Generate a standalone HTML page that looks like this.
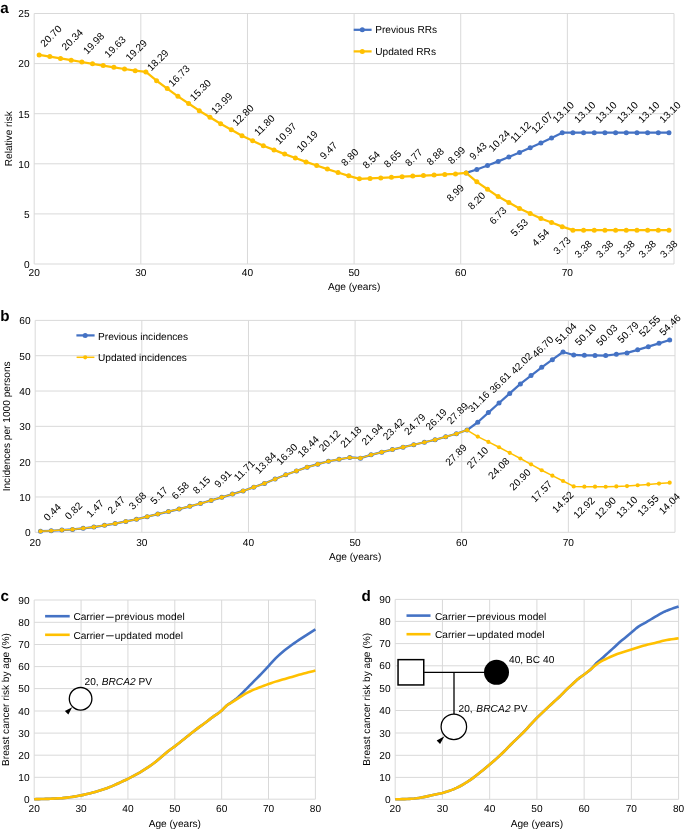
<!DOCTYPE html>
<html><head><meta charset="utf-8"><style>
html,body{margin:0;padding:0;background:#fff;}
svg{display:block;will-change:transform;}
</style></head><body>
<svg width="685" height="832" viewBox="0 0 685 832" font-family='"Liberation Sans", sans-serif' font-size="10.15" fill="#000" text-rendering="geometricPrecision">
<rect width="685" height="832" fill="#fff"/>
<line x1="34.2" y1="213.9" x2="674" y2="213.9" stroke="#D9D9D9" stroke-width="1"/>
<line x1="34.2" y1="163.8" x2="674" y2="163.8" stroke="#D9D9D9" stroke-width="1"/>
<line x1="34.2" y1="113.7" x2="674" y2="113.7" stroke="#D9D9D9" stroke-width="1"/>
<line x1="34.2" y1="63.6" x2="674" y2="63.6" stroke="#D9D9D9" stroke-width="1"/>
<line x1="34.2" y1="13.5" x2="674" y2="13.5" stroke="#D9D9D9" stroke-width="1"/>
<line x1="34.2" y1="13.5" x2="34.2" y2="264" stroke="#D9D9D9" stroke-width="1"/>
<line x1="140.83" y1="13.5" x2="140.83" y2="264" stroke="#D9D9D9" stroke-width="1"/>
<line x1="247.47" y1="13.5" x2="247.47" y2="264" stroke="#D9D9D9" stroke-width="1"/>
<line x1="354.1" y1="13.5" x2="354.1" y2="264" stroke="#D9D9D9" stroke-width="1"/>
<line x1="460.73" y1="13.5" x2="460.73" y2="264" stroke="#D9D9D9" stroke-width="1"/>
<line x1="567.37" y1="13.5" x2="567.37" y2="264" stroke="#D9D9D9" stroke-width="1"/>
<line x1="674" y1="13.5" x2="674" y2="264" stroke="#D9D9D9" stroke-width="1"/>
<line x1="34.2" y1="264" x2="674" y2="264" stroke="#D9D9D9" stroke-width="1"/>
<text x="29.6" y="267.85" text-anchor="end">0</text>
<text x="29.6" y="217.75" text-anchor="end">5</text>
<text x="29.6" y="167.65" text-anchor="end">10</text>
<text x="29.6" y="117.55" text-anchor="end">15</text>
<text x="29.6" y="67.45" text-anchor="end">20</text>
<text x="29.6" y="17.35" text-anchor="end">25</text>
<text x="34.2" y="275.8" text-anchor="middle">20</text>
<text x="140.83" y="275.8" text-anchor="middle">30</text>
<text x="247.47" y="275.8" text-anchor="middle">40</text>
<text x="354.1" y="275.8" text-anchor="middle">50</text>
<text x="460.73" y="275.8" text-anchor="middle">60</text>
<text x="567.37" y="275.8" text-anchor="middle">70</text>
<text x="354.1" y="289.9" text-anchor="middle">Age (years)</text>
<text transform="translate(11.6,138.75) rotate(-90)" x="0" y="0" text-anchor="middle">Relative risk</text>
<text x="0.3" y="12.8" font-weight="bold" font-size="15.2">a</text>
<polyline points="466.15,172.92 476.82,169.51 487.5,165.45 498.18,161.4 508.85,156.99 519.53,152.58 530.2,147.82 540.88,143.06 551.55,137.9 562.23,132.74 572.9,132.74 583.58,132.74 594.25,132.74 604.93,132.74 615.6,132.74 626.27,132.74 636.95,132.74 647.62,132.74 658.3,132.74 668.98,132.74" fill="none" stroke="#4472C4" stroke-width="2.25" stroke-linejoin="round" stroke-linecap="round"/>
<circle cx="466.15" cy="172.92" r="2.5" fill="#4472C4"/>
<circle cx="476.82" cy="169.51" r="2.5" fill="#4472C4"/>
<circle cx="487.5" cy="165.45" r="2.5" fill="#4472C4"/>
<circle cx="498.18" cy="161.4" r="2.5" fill="#4472C4"/>
<circle cx="508.85" cy="156.99" r="2.5" fill="#4472C4"/>
<circle cx="519.53" cy="152.58" r="2.5" fill="#4472C4"/>
<circle cx="530.2" cy="147.82" r="2.5" fill="#4472C4"/>
<circle cx="540.88" cy="143.06" r="2.5" fill="#4472C4"/>
<circle cx="551.55" cy="137.9" r="2.5" fill="#4472C4"/>
<circle cx="562.23" cy="132.74" r="2.5" fill="#4472C4"/>
<circle cx="572.9" cy="132.74" r="2.5" fill="#4472C4"/>
<circle cx="583.58" cy="132.74" r="2.5" fill="#4472C4"/>
<circle cx="594.25" cy="132.74" r="2.5" fill="#4472C4"/>
<circle cx="604.93" cy="132.74" r="2.5" fill="#4472C4"/>
<circle cx="615.6" cy="132.74" r="2.5" fill="#4472C4"/>
<circle cx="626.27" cy="132.74" r="2.5" fill="#4472C4"/>
<circle cx="636.95" cy="132.74" r="2.5" fill="#4472C4"/>
<circle cx="647.62" cy="132.74" r="2.5" fill="#4472C4"/>
<circle cx="658.3" cy="132.74" r="2.5" fill="#4472C4"/>
<circle cx="668.98" cy="132.74" r="2.5" fill="#4472C4"/>
<polyline points="39.15,54.98 49.83,56.59 60.5,58.39 71.18,60.19 81.85,62 92.53,63.8 103.2,65.55 113.88,67.31 124.55,69.01 135.22,70.71 145.9,71.92 156.58,80.73 167.25,88.55 177.93,96.37 188.6,103.53 199.28,110.69 209.95,117.26 220.63,123.82 231.3,129.78 241.98,135.74 252.65,140.75 263.32,145.76 274,149.92 284.68,154.08 295.35,157.99 306.02,161.9 316.7,165.5 327.38,169.11 338.05,172.47 348.73,175.82 359.4,178.83 370.07,178.43 380.75,177.88 391.43,177.33 402.1,176.73 412.77,176.12 423.45,175.57 434.12,175.02 444.8,174.47 455.48,173.92 466.15,172.92 476.82,181.84 487.5,189.2 498.18,196.57 508.85,202.58 519.53,208.59 530.2,213.55 540.88,218.51 551.55,222.57 562.23,226.63 572.9,230.13 583.58,230.13 594.25,230.13 604.93,230.13 615.6,230.13 626.27,230.13 636.95,230.13 647.62,230.13 658.3,230.13 668.98,230.13" fill="none" stroke="#FFC000" stroke-width="2.25" stroke-linejoin="round" stroke-linecap="round"/>
<circle cx="39.15" cy="54.98" r="2.5" fill="#FFC000"/>
<circle cx="49.83" cy="56.59" r="2.5" fill="#FFC000"/>
<circle cx="60.5" cy="58.39" r="2.5" fill="#FFC000"/>
<circle cx="71.18" cy="60.19" r="2.5" fill="#FFC000"/>
<circle cx="81.85" cy="62" r="2.5" fill="#FFC000"/>
<circle cx="92.53" cy="63.8" r="2.5" fill="#FFC000"/>
<circle cx="103.2" cy="65.55" r="2.5" fill="#FFC000"/>
<circle cx="113.88" cy="67.31" r="2.5" fill="#FFC000"/>
<circle cx="124.55" cy="69.01" r="2.5" fill="#FFC000"/>
<circle cx="135.22" cy="70.71" r="2.5" fill="#FFC000"/>
<circle cx="145.9" cy="71.92" r="2.5" fill="#FFC000"/>
<circle cx="156.58" cy="80.73" r="2.5" fill="#FFC000"/>
<circle cx="167.25" cy="88.55" r="2.5" fill="#FFC000"/>
<circle cx="177.93" cy="96.37" r="2.5" fill="#FFC000"/>
<circle cx="188.6" cy="103.53" r="2.5" fill="#FFC000"/>
<circle cx="199.28" cy="110.69" r="2.5" fill="#FFC000"/>
<circle cx="209.95" cy="117.26" r="2.5" fill="#FFC000"/>
<circle cx="220.63" cy="123.82" r="2.5" fill="#FFC000"/>
<circle cx="231.3" cy="129.78" r="2.5" fill="#FFC000"/>
<circle cx="241.98" cy="135.74" r="2.5" fill="#FFC000"/>
<circle cx="252.65" cy="140.75" r="2.5" fill="#FFC000"/>
<circle cx="263.32" cy="145.76" r="2.5" fill="#FFC000"/>
<circle cx="274" cy="149.92" r="2.5" fill="#FFC000"/>
<circle cx="284.68" cy="154.08" r="2.5" fill="#FFC000"/>
<circle cx="295.35" cy="157.99" r="2.5" fill="#FFC000"/>
<circle cx="306.02" cy="161.9" r="2.5" fill="#FFC000"/>
<circle cx="316.7" cy="165.5" r="2.5" fill="#FFC000"/>
<circle cx="327.38" cy="169.11" r="2.5" fill="#FFC000"/>
<circle cx="338.05" cy="172.47" r="2.5" fill="#FFC000"/>
<circle cx="348.73" cy="175.82" r="2.5" fill="#FFC000"/>
<circle cx="359.4" cy="178.83" r="2.5" fill="#FFC000"/>
<circle cx="370.07" cy="178.43" r="2.5" fill="#FFC000"/>
<circle cx="380.75" cy="177.88" r="2.5" fill="#FFC000"/>
<circle cx="391.43" cy="177.33" r="2.5" fill="#FFC000"/>
<circle cx="402.1" cy="176.73" r="2.5" fill="#FFC000"/>
<circle cx="412.77" cy="176.12" r="2.5" fill="#FFC000"/>
<circle cx="423.45" cy="175.57" r="2.5" fill="#FFC000"/>
<circle cx="434.12" cy="175.02" r="2.5" fill="#FFC000"/>
<circle cx="444.8" cy="174.47" r="2.5" fill="#FFC000"/>
<circle cx="455.48" cy="173.92" r="2.5" fill="#FFC000"/>
<circle cx="466.15" cy="172.92" r="2.5" fill="#FFC000"/>
<circle cx="476.82" cy="181.84" r="2.5" fill="#FFC000"/>
<circle cx="487.5" cy="189.2" r="2.5" fill="#FFC000"/>
<circle cx="498.18" cy="196.57" r="2.5" fill="#FFC000"/>
<circle cx="508.85" cy="202.58" r="2.5" fill="#FFC000"/>
<circle cx="519.53" cy="208.59" r="2.5" fill="#FFC000"/>
<circle cx="530.2" cy="213.55" r="2.5" fill="#FFC000"/>
<circle cx="540.88" cy="218.51" r="2.5" fill="#FFC000"/>
<circle cx="551.55" cy="222.57" r="2.5" fill="#FFC000"/>
<circle cx="562.23" cy="226.63" r="2.5" fill="#FFC000"/>
<circle cx="572.9" cy="230.13" r="2.5" fill="#FFC000"/>
<circle cx="583.58" cy="230.13" r="2.5" fill="#FFC000"/>
<circle cx="594.25" cy="230.13" r="2.5" fill="#FFC000"/>
<circle cx="604.93" cy="230.13" r="2.5" fill="#FFC000"/>
<circle cx="615.6" cy="230.13" r="2.5" fill="#FFC000"/>
<circle cx="626.27" cy="230.13" r="2.5" fill="#FFC000"/>
<circle cx="636.95" cy="230.13" r="2.5" fill="#FFC000"/>
<circle cx="647.62" cy="230.13" r="2.5" fill="#FFC000"/>
<circle cx="658.3" cy="230.13" r="2.5" fill="#FFC000"/>
<circle cx="668.98" cy="230.13" r="2.5" fill="#FFC000"/>
<text transform="translate(50.83,35.92) rotate(-45)" x="0" y="3.63" text-anchor="middle">20.70</text>
<text transform="translate(72.18,39.53) rotate(-45)" x="0" y="3.63" text-anchor="middle">20.34</text>
<text transform="translate(93.53,43.13) rotate(-45)" x="0" y="3.63" text-anchor="middle">19.98</text>
<text transform="translate(114.88,46.64) rotate(-45)" x="0" y="3.63" text-anchor="middle">19.63</text>
<text transform="translate(136.22,50.05) rotate(-45)" x="0" y="3.63" text-anchor="middle">19.29</text>
<text transform="translate(157.58,60.07) rotate(-45)" x="0" y="3.63" text-anchor="middle">18.29</text>
<text transform="translate(178.93,75.7) rotate(-45)" x="0" y="3.63" text-anchor="middle">16.73</text>
<text transform="translate(200.28,90.03) rotate(-45)" x="0" y="3.63" text-anchor="middle">15.30</text>
<text transform="translate(221.63,103.15) rotate(-45)" x="0" y="3.63" text-anchor="middle">13.99</text>
<text transform="translate(242.98,115.08) rotate(-45)" x="0" y="3.63" text-anchor="middle">12.80</text>
<text transform="translate(264.32,125.1) rotate(-45)" x="0" y="3.63" text-anchor="middle">11.80</text>
<text transform="translate(285.68,133.41) rotate(-45)" x="0" y="3.63" text-anchor="middle">10.97</text>
<text transform="translate(307.02,141.23) rotate(-45)" x="0" y="3.63" text-anchor="middle">10.19</text>
<text transform="translate(328.38,150.44) rotate(-45)" x="0" y="3.63" text-anchor="middle">9.47</text>
<text transform="translate(349.73,157.15) rotate(-45)" x="0" y="3.63" text-anchor="middle">8.80</text>
<text transform="translate(371.07,159.76) rotate(-45)" x="0" y="3.63" text-anchor="middle">8.54</text>
<text transform="translate(392.43,158.66) rotate(-45)" x="0" y="3.63" text-anchor="middle">8.65</text>
<text transform="translate(413.77,157.45) rotate(-45)" x="0" y="3.63" text-anchor="middle">8.77</text>
<text transform="translate(435.12,156.35) rotate(-45)" x="0" y="3.63" text-anchor="middle">8.88</text>
<text transform="translate(456.48,155.25) rotate(-45)" x="0" y="3.63" text-anchor="middle">8.99</text>
<text transform="translate(477.82,150.84) rotate(-45)" x="0" y="3.63" text-anchor="middle">9.43</text>
<text transform="translate(499.18,140.73) rotate(-45)" x="0" y="3.63" text-anchor="middle">10.24</text>
<text transform="translate(520.53,131.91) rotate(-45)" x="0" y="3.63" text-anchor="middle">11.12</text>
<text transform="translate(541.88,122.39) rotate(-45)" x="0" y="3.63" text-anchor="middle">12.07</text>
<text transform="translate(563.23,112.07) rotate(-45)" x="0" y="3.63" text-anchor="middle">13.10</text>
<text transform="translate(584.58,112.07) rotate(-45)" x="0" y="3.63" text-anchor="middle">13.10</text>
<text transform="translate(605.93,112.07) rotate(-45)" x="0" y="3.63" text-anchor="middle">13.10</text>
<text transform="translate(627.27,112.07) rotate(-45)" x="0" y="3.63" text-anchor="middle">13.10</text>
<text transform="translate(648.62,112.07) rotate(-45)" x="0" y="3.63" text-anchor="middle">13.10</text>
<text transform="translate(669.98,112.07) rotate(-45)" x="0" y="3.63" text-anchor="middle">13.10</text>
<text transform="translate(455.08,192.79) rotate(-45)" x="0" y="3.63" text-anchor="middle">8.99</text>
<text transform="translate(476.43,200.71) rotate(-45)" x="0" y="3.63" text-anchor="middle">8.20</text>
<text transform="translate(497.78,215.44) rotate(-45)" x="0" y="3.63" text-anchor="middle">6.73</text>
<text transform="translate(519.13,227.46) rotate(-45)" x="0" y="3.63" text-anchor="middle">5.53</text>
<text transform="translate(540.48,237.38) rotate(-45)" x="0" y="3.63" text-anchor="middle">4.54</text>
<text transform="translate(561.83,245.5) rotate(-45)" x="0" y="3.63" text-anchor="middle">3.73</text>
<text transform="translate(583.18,249) rotate(-45)" x="0" y="3.63" text-anchor="middle">3.38</text>
<text transform="translate(604.53,249) rotate(-45)" x="0" y="3.63" text-anchor="middle">3.38</text>
<text transform="translate(625.88,249) rotate(-45)" x="0" y="3.63" text-anchor="middle">3.38</text>
<text transform="translate(647.23,249) rotate(-45)" x="0" y="3.63" text-anchor="middle">3.38</text>
<text transform="translate(668.58,249) rotate(-45)" x="0" y="3.63" text-anchor="middle">3.38</text>
<polyline points="353.7,29.8 371.6,29.8" fill="none" stroke="#4472C4" stroke-width="2.25" stroke-linejoin="round" stroke-linecap="butt"/>
<circle cx="362.3" cy="29.8" r="2.5" fill="#4472C4"/>
<text x="375.2" y="33.2">Previous RRs</text>
<polyline points="353.7,51.4 371.6,51.4" fill="none" stroke="#FFC000" stroke-width="2.25" stroke-linejoin="round" stroke-linecap="butt"/>
<circle cx="362.3" cy="51.4" r="2.5" fill="#FFC000"/>
<text x="375.2" y="54.8">Updated RRs</text>
<line x1="35.2" y1="496.98" x2="675" y2="496.98" stroke="#D9D9D9" stroke-width="1"/>
<line x1="35.2" y1="461.66" x2="675" y2="461.66" stroke="#D9D9D9" stroke-width="1"/>
<line x1="35.2" y1="426.34" x2="675" y2="426.34" stroke="#D9D9D9" stroke-width="1"/>
<line x1="35.2" y1="391.02" x2="675" y2="391.02" stroke="#D9D9D9" stroke-width="1"/>
<line x1="35.2" y1="355.7" x2="675" y2="355.7" stroke="#D9D9D9" stroke-width="1"/>
<line x1="35.2" y1="320.38" x2="675" y2="320.38" stroke="#D9D9D9" stroke-width="1"/>
<line x1="35.2" y1="320.38" x2="35.2" y2="532.3" stroke="#D9D9D9" stroke-width="1"/>
<line x1="141.83" y1="320.38" x2="141.83" y2="532.3" stroke="#D9D9D9" stroke-width="1"/>
<line x1="248.47" y1="320.38" x2="248.47" y2="532.3" stroke="#D9D9D9" stroke-width="1"/>
<line x1="355.1" y1="320.38" x2="355.1" y2="532.3" stroke="#D9D9D9" stroke-width="1"/>
<line x1="461.73" y1="320.38" x2="461.73" y2="532.3" stroke="#D9D9D9" stroke-width="1"/>
<line x1="568.37" y1="320.38" x2="568.37" y2="532.3" stroke="#D9D9D9" stroke-width="1"/>
<line x1="675" y1="320.38" x2="675" y2="532.3" stroke="#D9D9D9" stroke-width="1"/>
<line x1="35.2" y1="532.3" x2="675" y2="532.3" stroke="#D9D9D9" stroke-width="1"/>
<text x="30.6" y="536.2" text-anchor="end">0</text>
<text x="30.6" y="500.88" text-anchor="end">10</text>
<text x="30.6" y="465.56" text-anchor="end">20</text>
<text x="30.6" y="430.24" text-anchor="end">30</text>
<text x="30.6" y="394.92" text-anchor="end">40</text>
<text x="30.6" y="359.6" text-anchor="end">50</text>
<text x="30.6" y="324.28" text-anchor="end">60</text>
<text x="35.2" y="545.8" text-anchor="middle">20</text>
<text x="141.83" y="545.8" text-anchor="middle">30</text>
<text x="248.47" y="545.8" text-anchor="middle">40</text>
<text x="355.1" y="545.8" text-anchor="middle">50</text>
<text x="461.73" y="545.8" text-anchor="middle">60</text>
<text x="568.37" y="545.8" text-anchor="middle">70</text>
<text x="355.1" y="560.1" text-anchor="middle">Age (years)</text>
<text transform="translate(9.7,426.34) rotate(-90)" x="0" y="0" text-anchor="middle">Incidences per 1000 persons</text>
<text x="0.2" y="320.8" font-weight="bold" font-size="15.2">b</text>
<polyline points="40.53,531.24 51.2,530.75 61.86,530.07 72.52,529.4 83.19,528.26 93.85,527.11 104.51,525.34 115.17,523.58 125.84,521.44 136.5,519.3 147.16,516.67 157.83,514.04 168.49,511.55 179.15,509.06 189.82,506.29 200.48,503.51 211.14,500.41 221.81,497.3 232.47,494.12 243.13,490.94 253.8,487.18 264.46,483.42 275.12,479.07 285.79,474.73 296.45,470.95 307.12,467.17 317.78,464.2 328.44,461.24 339.1,459.36 349.77,457.49 360.43,458.13 371.09,454.81 381.76,452.19 392.42,449.58 403.08,447.16 413.75,444.74 424.41,442.27 435.07,439.8 445.74,436.79 456.4,433.79 467.06,430.05 477.73,422.24 488.39,412.62 499.05,402.99 509.72,393.44 520.38,383.89 531.04,375.62 541.71,367.36 552.37,359.69 563.03,352.03 573.7,354.99 584.36,355.35 595.03,355.47 605.69,355.59 616.35,354.25 627.01,352.91 637.68,349.8 648.34,346.69 659,343.32 669.67,339.95" fill="none" stroke="#4472C4" stroke-width="2.25" stroke-linejoin="round" stroke-linecap="round"/>
<circle cx="40.53" cy="531.24" r="2.5" fill="#4472C4"/>
<circle cx="51.2" cy="530.75" r="2.5" fill="#4472C4"/>
<circle cx="61.86" cy="530.07" r="2.5" fill="#4472C4"/>
<circle cx="72.52" cy="529.4" r="2.5" fill="#4472C4"/>
<circle cx="83.19" cy="528.26" r="2.5" fill="#4472C4"/>
<circle cx="93.85" cy="527.11" r="2.5" fill="#4472C4"/>
<circle cx="104.51" cy="525.34" r="2.5" fill="#4472C4"/>
<circle cx="115.17" cy="523.58" r="2.5" fill="#4472C4"/>
<circle cx="125.84" cy="521.44" r="2.5" fill="#4472C4"/>
<circle cx="136.5" cy="519.3" r="2.5" fill="#4472C4"/>
<circle cx="147.16" cy="516.67" r="2.5" fill="#4472C4"/>
<circle cx="157.83" cy="514.04" r="2.5" fill="#4472C4"/>
<circle cx="168.49" cy="511.55" r="2.5" fill="#4472C4"/>
<circle cx="179.15" cy="509.06" r="2.5" fill="#4472C4"/>
<circle cx="189.82" cy="506.29" r="2.5" fill="#4472C4"/>
<circle cx="200.48" cy="503.51" r="2.5" fill="#4472C4"/>
<circle cx="211.14" cy="500.41" r="2.5" fill="#4472C4"/>
<circle cx="221.81" cy="497.3" r="2.5" fill="#4472C4"/>
<circle cx="232.47" cy="494.12" r="2.5" fill="#4472C4"/>
<circle cx="243.13" cy="490.94" r="2.5" fill="#4472C4"/>
<circle cx="253.8" cy="487.18" r="2.5" fill="#4472C4"/>
<circle cx="264.46" cy="483.42" r="2.5" fill="#4472C4"/>
<circle cx="275.12" cy="479.07" r="2.5" fill="#4472C4"/>
<circle cx="285.79" cy="474.73" r="2.5" fill="#4472C4"/>
<circle cx="296.45" cy="470.95" r="2.5" fill="#4472C4"/>
<circle cx="307.12" cy="467.17" r="2.5" fill="#4472C4"/>
<circle cx="317.78" cy="464.2" r="2.5" fill="#4472C4"/>
<circle cx="328.44" cy="461.24" r="2.5" fill="#4472C4"/>
<circle cx="339.1" cy="459.36" r="2.5" fill="#4472C4"/>
<circle cx="349.77" cy="457.49" r="2.5" fill="#4472C4"/>
<circle cx="360.43" cy="458.13" r="2.5" fill="#4472C4"/>
<circle cx="371.09" cy="454.81" r="2.5" fill="#4472C4"/>
<circle cx="381.76" cy="452.19" r="2.5" fill="#4472C4"/>
<circle cx="392.42" cy="449.58" r="2.5" fill="#4472C4"/>
<circle cx="403.08" cy="447.16" r="2.5" fill="#4472C4"/>
<circle cx="413.75" cy="444.74" r="2.5" fill="#4472C4"/>
<circle cx="424.41" cy="442.27" r="2.5" fill="#4472C4"/>
<circle cx="435.07" cy="439.8" r="2.5" fill="#4472C4"/>
<circle cx="445.74" cy="436.79" r="2.5" fill="#4472C4"/>
<circle cx="456.4" cy="433.79" r="2.5" fill="#4472C4"/>
<circle cx="467.06" cy="430.05" r="2.5" fill="#4472C4"/>
<circle cx="477.73" cy="422.24" r="2.5" fill="#4472C4"/>
<circle cx="488.39" cy="412.62" r="2.5" fill="#4472C4"/>
<circle cx="499.05" cy="402.99" r="2.5" fill="#4472C4"/>
<circle cx="509.72" cy="393.44" r="2.5" fill="#4472C4"/>
<circle cx="520.38" cy="383.89" r="2.5" fill="#4472C4"/>
<circle cx="531.04" cy="375.62" r="2.5" fill="#4472C4"/>
<circle cx="541.71" cy="367.36" r="2.5" fill="#4472C4"/>
<circle cx="552.37" cy="359.69" r="2.5" fill="#4472C4"/>
<circle cx="563.03" cy="352.03" r="2.5" fill="#4472C4"/>
<circle cx="573.7" cy="354.99" r="2.5" fill="#4472C4"/>
<circle cx="584.36" cy="355.35" r="2.5" fill="#4472C4"/>
<circle cx="595.03" cy="355.47" r="2.5" fill="#4472C4"/>
<circle cx="605.69" cy="355.59" r="2.5" fill="#4472C4"/>
<circle cx="616.35" cy="354.25" r="2.5" fill="#4472C4"/>
<circle cx="627.01" cy="352.91" r="2.5" fill="#4472C4"/>
<circle cx="637.68" cy="349.8" r="2.5" fill="#4472C4"/>
<circle cx="648.34" cy="346.69" r="2.5" fill="#4472C4"/>
<circle cx="659" cy="343.32" r="2.5" fill="#4472C4"/>
<circle cx="669.67" cy="339.95" r="2.5" fill="#4472C4"/>
<polyline points="40.53,531.24 51.2,530.75 61.86,530.07 72.52,529.4 83.19,528.26 93.85,527.11 104.51,525.34 115.17,523.58 125.84,521.44 136.5,519.3 147.16,516.67 157.83,514.04 168.49,511.55 179.15,509.06 189.82,506.29 200.48,503.51 211.14,500.41 221.81,497.3 232.47,494.12 243.13,490.94 253.8,487.18 264.46,483.42 275.12,479.07 285.79,474.73 296.45,470.95 307.12,467.17 317.78,464.2 328.44,461.24 339.1,459.36 349.77,457.49 360.43,458.13 371.09,454.81 381.76,452.19 392.42,449.58 403.08,447.16 413.75,444.74 424.41,442.27 435.07,439.8 445.74,436.79 456.4,433.79 467.06,430.05 477.73,436.58 488.39,441.92 499.05,447.25 509.72,452.87 520.38,458.48 531.04,464.36 541.71,470.24 552.37,475.63 563.03,481.02 573.7,486.38 584.36,486.67 595.03,486.7 605.69,486.74 616.35,486.38 627.01,486.03 637.68,485.24 648.34,484.44 659,483.58 669.67,482.71" fill="none" stroke="#FFC000" stroke-width="1.5" stroke-linejoin="round" stroke-linecap="round"/>
<circle cx="40.53" cy="531.24" r="2.1" fill="#FFC000"/>
<circle cx="51.2" cy="530.75" r="2.1" fill="#FFC000"/>
<circle cx="61.86" cy="530.07" r="2.1" fill="#FFC000"/>
<circle cx="72.52" cy="529.4" r="2.1" fill="#FFC000"/>
<circle cx="83.19" cy="528.26" r="2.1" fill="#FFC000"/>
<circle cx="93.85" cy="527.11" r="2.1" fill="#FFC000"/>
<circle cx="104.51" cy="525.34" r="2.1" fill="#FFC000"/>
<circle cx="115.17" cy="523.58" r="2.1" fill="#FFC000"/>
<circle cx="125.84" cy="521.44" r="2.1" fill="#FFC000"/>
<circle cx="136.5" cy="519.3" r="2.1" fill="#FFC000"/>
<circle cx="147.16" cy="516.67" r="2.1" fill="#FFC000"/>
<circle cx="157.83" cy="514.04" r="2.1" fill="#FFC000"/>
<circle cx="168.49" cy="511.55" r="2.1" fill="#FFC000"/>
<circle cx="179.15" cy="509.06" r="2.1" fill="#FFC000"/>
<circle cx="189.82" cy="506.29" r="2.1" fill="#FFC000"/>
<circle cx="200.48" cy="503.51" r="2.1" fill="#FFC000"/>
<circle cx="211.14" cy="500.41" r="2.1" fill="#FFC000"/>
<circle cx="221.81" cy="497.3" r="2.1" fill="#FFC000"/>
<circle cx="232.47" cy="494.12" r="2.1" fill="#FFC000"/>
<circle cx="243.13" cy="490.94" r="2.1" fill="#FFC000"/>
<circle cx="253.8" cy="487.18" r="2.1" fill="#FFC000"/>
<circle cx="264.46" cy="483.42" r="2.1" fill="#FFC000"/>
<circle cx="275.12" cy="479.07" r="2.1" fill="#FFC000"/>
<circle cx="285.79" cy="474.73" r="2.1" fill="#FFC000"/>
<circle cx="296.45" cy="470.95" r="2.1" fill="#FFC000"/>
<circle cx="307.12" cy="467.17" r="2.1" fill="#FFC000"/>
<circle cx="317.78" cy="464.2" r="2.1" fill="#FFC000"/>
<circle cx="328.44" cy="461.24" r="2.1" fill="#FFC000"/>
<circle cx="339.1" cy="459.36" r="2.1" fill="#FFC000"/>
<circle cx="349.77" cy="457.49" r="2.1" fill="#FFC000"/>
<circle cx="360.43" cy="458.13" r="2.1" fill="#FFC000"/>
<circle cx="371.09" cy="454.81" r="2.1" fill="#FFC000"/>
<circle cx="381.76" cy="452.19" r="2.1" fill="#FFC000"/>
<circle cx="392.42" cy="449.58" r="2.1" fill="#FFC000"/>
<circle cx="403.08" cy="447.16" r="2.1" fill="#FFC000"/>
<circle cx="413.75" cy="444.74" r="2.1" fill="#FFC000"/>
<circle cx="424.41" cy="442.27" r="2.1" fill="#FFC000"/>
<circle cx="435.07" cy="439.8" r="2.1" fill="#FFC000"/>
<circle cx="445.74" cy="436.79" r="2.1" fill="#FFC000"/>
<circle cx="456.4" cy="433.79" r="2.1" fill="#FFC000"/>
<circle cx="467.06" cy="430.05" r="2.1" fill="#FFC000"/>
<circle cx="477.73" cy="436.58" r="2.1" fill="#FFC000"/>
<circle cx="488.39" cy="441.92" r="2.1" fill="#FFC000"/>
<circle cx="499.05" cy="447.25" r="2.1" fill="#FFC000"/>
<circle cx="509.72" cy="452.87" r="2.1" fill="#FFC000"/>
<circle cx="520.38" cy="458.48" r="2.1" fill="#FFC000"/>
<circle cx="531.04" cy="464.36" r="2.1" fill="#FFC000"/>
<circle cx="541.71" cy="470.24" r="2.1" fill="#FFC000"/>
<circle cx="552.37" cy="475.63" r="2.1" fill="#FFC000"/>
<circle cx="563.03" cy="481.02" r="2.1" fill="#FFC000"/>
<circle cx="573.7" cy="486.38" r="2.1" fill="#FFC000"/>
<circle cx="584.36" cy="486.67" r="2.1" fill="#FFC000"/>
<circle cx="595.03" cy="486.7" r="2.1" fill="#FFC000"/>
<circle cx="605.69" cy="486.74" r="2.1" fill="#FFC000"/>
<circle cx="616.35" cy="486.38" r="2.1" fill="#FFC000"/>
<circle cx="627.01" cy="486.03" r="2.1" fill="#FFC000"/>
<circle cx="637.68" cy="485.24" r="2.1" fill="#FFC000"/>
<circle cx="648.34" cy="484.44" r="2.1" fill="#FFC000"/>
<circle cx="659" cy="483.58" r="2.1" fill="#FFC000"/>
<circle cx="669.67" cy="482.71" r="2.1" fill="#FFC000"/>
<text transform="translate(52.2,512.07) rotate(-45)" x="0" y="3.63" text-anchor="middle">0.44</text>
<text transform="translate(73.52,510.73) rotate(-45)" x="0" y="3.63" text-anchor="middle">0.82</text>
<text transform="translate(94.85,508.44) rotate(-45)" x="0" y="3.63" text-anchor="middle">1.47</text>
<text transform="translate(116.17,504.9) rotate(-45)" x="0" y="3.63" text-anchor="middle">2.47</text>
<text transform="translate(137.5,500.63) rotate(-45)" x="0" y="3.63" text-anchor="middle">3.68</text>
<text transform="translate(158.83,495.37) rotate(-45)" x="0" y="3.63" text-anchor="middle">5.17</text>
<text transform="translate(180.15,490.39) rotate(-45)" x="0" y="3.63" text-anchor="middle">6.58</text>
<text transform="translate(201.48,484.84) rotate(-45)" x="0" y="3.63" text-anchor="middle">8.15</text>
<text transform="translate(222.81,478.63) rotate(-45)" x="0" y="3.63" text-anchor="middle">9.91</text>
<text transform="translate(244.13,470.27) rotate(-45)" x="0" y="3.63" text-anchor="middle">11.71</text>
<text transform="translate(265.46,462.75) rotate(-45)" x="0" y="3.63" text-anchor="middle">13.84</text>
<text transform="translate(286.79,454.06) rotate(-45)" x="0" y="3.63" text-anchor="middle">16.30</text>
<text transform="translate(308.12,446.5) rotate(-45)" x="0" y="3.63" text-anchor="middle">18.44</text>
<text transform="translate(329.44,440.57) rotate(-45)" x="0" y="3.63" text-anchor="middle">20.12</text>
<text transform="translate(350.77,436.83) rotate(-45)" x="0" y="3.63" text-anchor="middle">21.18</text>
<text transform="translate(372.09,434.14) rotate(-45)" x="0" y="3.63" text-anchor="middle">21.94</text>
<text transform="translate(393.42,428.91) rotate(-45)" x="0" y="3.63" text-anchor="middle">23.42</text>
<text transform="translate(414.75,424.07) rotate(-45)" x="0" y="3.63" text-anchor="middle">24.79</text>
<text transform="translate(436.07,419.13) rotate(-45)" x="0" y="3.63" text-anchor="middle">26.19</text>
<text transform="translate(457.4,413.13) rotate(-45)" x="0" y="3.63" text-anchor="middle">27.89</text>
<text transform="translate(478.73,401.58) rotate(-45)" x="0" y="3.63" text-anchor="middle">31.16</text>
<text transform="translate(500.05,382.33) rotate(-45)" x="0" y="3.63" text-anchor="middle">36.61</text>
<text transform="translate(521.38,363.22) rotate(-45)" x="0" y="3.63" text-anchor="middle">42.02</text>
<text transform="translate(542.71,346.69) rotate(-45)" x="0" y="3.63" text-anchor="middle">46.70</text>
<text transform="translate(565.63,333.36) rotate(-45)" x="0" y="3.63" text-anchor="middle">51.04</text>
<text transform="translate(585.36,334.68) rotate(-45)" x="0" y="3.63" text-anchor="middle">50.10</text>
<text transform="translate(606.69,334.93) rotate(-45)" x="0" y="3.63" text-anchor="middle">50.03</text>
<text transform="translate(628.01,332.24) rotate(-45)" x="0" y="3.63" text-anchor="middle">50.79</text>
<text transform="translate(649.34,326.03) rotate(-45)" x="0" y="3.63" text-anchor="middle">52.55</text>
<text transform="translate(669.87,324.78) rotate(-45)" x="0" y="3.63" text-anchor="middle">54.46</text>
<text transform="translate(456,454.66) rotate(-45)" x="0" y="3.63" text-anchor="middle">27.89</text>
<text transform="translate(477.33,457.45) rotate(-45)" x="0" y="3.63" text-anchor="middle">27.10</text>
<text transform="translate(498.65,468.12) rotate(-45)" x="0" y="3.63" text-anchor="middle">24.08</text>
<text transform="translate(519.98,479.35) rotate(-45)" x="0" y="3.63" text-anchor="middle">20.90</text>
<text transform="translate(541.31,491.11) rotate(-45)" x="0" y="3.63" text-anchor="middle">17.57</text>
<text transform="translate(562.63,501.88) rotate(-45)" x="0" y="3.63" text-anchor="middle">14.52</text>
<text transform="translate(583.96,507.53) rotate(-45)" x="0" y="3.63" text-anchor="middle">12.92</text>
<text transform="translate(605.29,507.6) rotate(-45)" x="0" y="3.63" text-anchor="middle">12.90</text>
<text transform="translate(626.62,506.9) rotate(-45)" x="0" y="3.63" text-anchor="middle">13.10</text>
<text transform="translate(647.94,505.31) rotate(-45)" x="0" y="3.63" text-anchor="middle">13.55</text>
<text transform="translate(669.27,503.58) rotate(-45)" x="0" y="3.63" text-anchor="middle">14.04</text>
<polyline points="76.4,335.4 94.6,335.4" fill="none" stroke="#4472C4" stroke-width="2.25" stroke-linejoin="round" stroke-linecap="butt"/>
<circle cx="85.2" cy="335.4" r="2.5" fill="#4472C4"/>
<text x="98" y="339.8">Previous incidences</text>
<polyline points="76.6,357.3 94.4,357.3" fill="none" stroke="#FFC000" stroke-width="1.5" stroke-linejoin="round" stroke-linecap="butt"/>
<circle cx="85.2" cy="357.3" r="2.1" fill="#FFC000"/>
<text x="98" y="361.1">Updated incidences</text>
<line x1="34.2" y1="777.3" x2="315.4" y2="777.3" stroke="#D9D9D9" stroke-width="1"/>
<line x1="34.2" y1="755.2" x2="315.4" y2="755.2" stroke="#D9D9D9" stroke-width="1"/>
<line x1="34.2" y1="733.1" x2="315.4" y2="733.1" stroke="#D9D9D9" stroke-width="1"/>
<line x1="34.2" y1="711" x2="315.4" y2="711" stroke="#D9D9D9" stroke-width="1"/>
<line x1="34.2" y1="688.6" x2="315.4" y2="688.6" stroke="#D9D9D9" stroke-width="1"/>
<line x1="34.2" y1="666.6" x2="315.4" y2="666.6" stroke="#D9D9D9" stroke-width="1"/>
<line x1="34.2" y1="644.5" x2="315.4" y2="644.5" stroke="#D9D9D9" stroke-width="1"/>
<line x1="34.2" y1="622.3" x2="315.4" y2="622.3" stroke="#D9D9D9" stroke-width="1"/>
<line x1="34.2" y1="600" x2="315.4" y2="600" stroke="#D9D9D9" stroke-width="1"/>
<line x1="34.2" y1="600" x2="34.2" y2="799.2" stroke="#D9D9D9" stroke-width="1"/>
<line x1="81.07" y1="600" x2="81.07" y2="799.2" stroke="#D9D9D9" stroke-width="1"/>
<line x1="127.93" y1="600" x2="127.93" y2="799.2" stroke="#D9D9D9" stroke-width="1"/>
<line x1="174.8" y1="600" x2="174.8" y2="799.2" stroke="#D9D9D9" stroke-width="1"/>
<line x1="221.67" y1="600" x2="221.67" y2="799.2" stroke="#D9D9D9" stroke-width="1"/>
<line x1="268.53" y1="600" x2="268.53" y2="799.2" stroke="#D9D9D9" stroke-width="1"/>
<line x1="315.4" y1="600" x2="315.4" y2="799.2" stroke="#D9D9D9" stroke-width="1"/>
<line x1="34.2" y1="799.2" x2="315.4" y2="799.2" stroke="#D9D9D9" stroke-width="1"/>
<text x="29.6" y="802.8" text-anchor="end">0</text>
<text x="29.6" y="780.9" text-anchor="end">10</text>
<text x="29.6" y="758.8" text-anchor="end">20</text>
<text x="29.6" y="736.7" text-anchor="end">30</text>
<text x="29.6" y="714.6" text-anchor="end">40</text>
<text x="29.6" y="692.2" text-anchor="end">50</text>
<text x="29.6" y="670.2" text-anchor="end">60</text>
<text x="29.6" y="648.1" text-anchor="end">70</text>
<text x="29.6" y="625.9" text-anchor="end">80</text>
<text x="29.6" y="603.6" text-anchor="end">90</text>
<text x="34.2" y="812.2" text-anchor="middle">20</text>
<text x="81.07" y="812.2" text-anchor="middle">30</text>
<text x="127.93" y="812.2" text-anchor="middle">40</text>
<text x="174.8" y="812.2" text-anchor="middle">50</text>
<text x="221.67" y="812.2" text-anchor="middle">60</text>
<text x="268.53" y="812.2" text-anchor="middle">70</text>
<text x="315.4" y="812.2" text-anchor="middle">80</text>
<text x="174.8" y="826.6" text-anchor="middle">Age (years)</text>
<text transform="translate(9.3,699.6) rotate(-90)" x="0" y="0" text-anchor="middle">Breast cancer risk by age (%)</text>
<text x="0.4" y="600.6" font-weight="bold" font-size="15.2">c</text>
<polyline points="34.2,799.2 36.54,799.15 38.89,799.1 41.23,799.04 43.57,798.98 45.92,798.91 48.26,798.84 50.6,798.75 52.95,798.65 55.29,798.54 57.63,798.42 59.98,798.27 62.32,798.11 64.66,797.89 67.01,797.63 69.35,797.33 71.69,797.01 74.04,796.66 76.38,796.26 78.72,795.83 81.07,795.37 83.41,794.87 85.75,794.34 88.1,793.77 90.44,793.18 92.78,792.57 95.13,791.93 97.47,791.26 99.81,790.55 102.16,789.8 104.5,789.01 106.84,788.18 109.19,787.3 111.53,786.37 113.87,785.35 116.22,784.29 118.56,783.2 120.9,782.12 123.25,781.05 125.59,779.96 127.93,778.83 130.28,777.66 132.62,776.43 134.96,775.16 137.31,773.87 139.65,772.53 141.99,771.16 144.34,769.71 146.68,768.21 149.02,766.64 151.37,765.01 153.71,763.29 156.05,761.45 158.4,759.53 160.74,757.58 163.08,755.61 165.43,753.58 167.77,751.59 170.11,749.72 172.46,748.03 174.8,746.36 177.14,744.56 179.49,742.7 181.83,740.82 184.17,738.93 186.52,737.06 188.86,735.19 191.2,733.31 193.55,731.46 195.89,729.65 198.23,727.88 200.58,726.15 202.92,724.43 205.26,722.7 207.61,720.95 209.95,719.13 212.29,717.32 214.64,715.64 216.98,714.08 219.32,712.46 221.67,710.59 224.01,708.17 226.35,705.8 228.7,704.04 231.04,702.54 233.38,700.92 235.73,699.16 238.07,697.18 240.41,694.95 242.76,692.56 245.1,690.17 247.44,687.81 249.79,685.45 252.13,683.08 254.47,680.71 256.82,678.37 259.16,676.03 261.5,673.64 263.85,671.17 266.19,668.64 268.53,666.09 270.88,663.46 273.22,660.84 275.56,658.39 277.91,656.12 280.25,654 282.59,652.01 284.94,650.09 287.28,648.25 289.62,646.47 291.97,644.75 294.31,643.09 296.65,641.48 299,639.91 301.34,638.35 303.68,636.82 306.03,635.32 308.37,633.83 310.71,632.36 313.06,630.89 315.4,629.4" fill="none" stroke="#4472C4" stroke-width="2.6" stroke-linejoin="round" stroke-linecap="butt"/>
<polyline points="34.2,799.2 36.54,799.15 38.89,799.1 41.23,799.04 43.57,798.98 45.92,798.91 48.26,798.84 50.6,798.75 52.95,798.65 55.29,798.54 57.63,798.42 59.98,798.27 62.32,798.11 64.66,797.89 67.01,797.63 69.35,797.33 71.69,797.01 74.04,796.66 76.38,796.26 78.72,795.83 81.07,795.37 83.41,794.87 85.75,794.34 88.1,793.77 90.44,793.18 92.78,792.57 95.13,791.93 97.47,791.26 99.81,790.55 102.16,789.8 104.5,789.01 106.84,788.18 109.19,787.3 111.53,786.37 113.87,785.35 116.22,784.29 118.56,783.2 120.9,782.12 123.25,781.05 125.59,779.96 127.93,778.83 130.28,777.66 132.62,776.43 134.96,775.16 137.31,773.87 139.65,772.53 141.99,771.16 144.34,769.71 146.68,768.21 149.02,766.64 151.37,765.01 153.71,763.29 156.05,761.45 158.4,759.53 160.74,757.58 163.08,755.61 165.43,753.58 167.77,751.59 170.11,749.72 172.46,748.03 174.8,746.36 177.14,744.56 179.49,742.7 181.83,740.82 184.17,738.93 186.52,737.06 188.86,735.19 191.2,733.31 193.55,731.46 195.89,729.65 198.23,727.88 200.58,726.15 202.92,724.43 205.26,722.7 207.61,720.95 209.95,719.13 212.29,717.32 214.64,715.64 216.98,714.08 219.32,712.46 221.67,710.58 224.01,708.13 226.35,705.77 228.7,704.17 231.04,702.87 233.38,701.43 235.73,699.83 238.07,698.31 240.41,696.81 242.76,695.35 245.1,693.96 247.44,692.66 249.79,691.5 252.13,690.42 254.47,689.4 256.82,688.44 259.16,687.52 261.5,686.62 263.85,685.73 266.19,684.85 268.53,684.01 270.88,683.18 273.22,682.39 275.56,681.63 277.91,680.91 280.25,680.21 282.59,679.54 284.94,678.88 287.28,678.23 289.62,677.56 291.97,676.89 294.31,676.2 296.65,675.51 299,674.82 301.34,674.16 303.68,673.51 306.03,672.9 308.37,672.31 310.71,671.73 313.06,671.15 315.4,670.56" fill="none" stroke="#FFC000" stroke-width="2.6" stroke-linejoin="round" stroke-linecap="butt"/>
<line x1="395.2" y1="777.4" x2="678.6" y2="777.4" stroke="#D9D9D9" stroke-width="1"/>
<line x1="395.2" y1="755.3" x2="678.6" y2="755.3" stroke="#D9D9D9" stroke-width="1"/>
<line x1="395.2" y1="733" x2="678.6" y2="733" stroke="#D9D9D9" stroke-width="1"/>
<line x1="395.2" y1="710.5" x2="678.6" y2="710.5" stroke="#D9D9D9" stroke-width="1"/>
<line x1="395.2" y1="688.1" x2="678.6" y2="688.1" stroke="#D9D9D9" stroke-width="1"/>
<line x1="395.2" y1="665.8" x2="678.6" y2="665.8" stroke="#D9D9D9" stroke-width="1"/>
<line x1="395.2" y1="643.6" x2="678.6" y2="643.6" stroke="#D9D9D9" stroke-width="1"/>
<line x1="395.2" y1="621.4" x2="678.6" y2="621.4" stroke="#D9D9D9" stroke-width="1"/>
<line x1="395.2" y1="599.4" x2="678.6" y2="599.4" stroke="#D9D9D9" stroke-width="1"/>
<line x1="395.2" y1="599.4" x2="395.2" y2="799.3" stroke="#D9D9D9" stroke-width="1"/>
<line x1="442.43" y1="599.4" x2="442.43" y2="799.3" stroke="#D9D9D9" stroke-width="1"/>
<line x1="489.67" y1="599.4" x2="489.67" y2="799.3" stroke="#D9D9D9" stroke-width="1"/>
<line x1="536.9" y1="599.4" x2="536.9" y2="799.3" stroke="#D9D9D9" stroke-width="1"/>
<line x1="584.13" y1="599.4" x2="584.13" y2="799.3" stroke="#D9D9D9" stroke-width="1"/>
<line x1="631.37" y1="599.4" x2="631.37" y2="799.3" stroke="#D9D9D9" stroke-width="1"/>
<line x1="678.6" y1="599.4" x2="678.6" y2="799.3" stroke="#D9D9D9" stroke-width="1"/>
<line x1="395.2" y1="799.3" x2="678.6" y2="799.3" stroke="#D9D9D9" stroke-width="1"/>
<text x="390.6" y="802.9" text-anchor="end">0</text>
<text x="390.6" y="781" text-anchor="end">10</text>
<text x="390.6" y="758.9" text-anchor="end">20</text>
<text x="390.6" y="736.6" text-anchor="end">30</text>
<text x="390.6" y="714.1" text-anchor="end">40</text>
<text x="390.6" y="691.7" text-anchor="end">50</text>
<text x="390.6" y="669.4" text-anchor="end">60</text>
<text x="390.6" y="647.2" text-anchor="end">70</text>
<text x="390.6" y="625" text-anchor="end">80</text>
<text x="390.6" y="603" text-anchor="end">90</text>
<text x="395.2" y="812.2" text-anchor="middle">20</text>
<text x="442.43" y="812.2" text-anchor="middle">30</text>
<text x="489.67" y="812.2" text-anchor="middle">40</text>
<text x="536.9" y="812.2" text-anchor="middle">50</text>
<text x="584.13" y="812.2" text-anchor="middle">60</text>
<text x="631.37" y="812.2" text-anchor="middle">70</text>
<text x="678.6" y="812.2" text-anchor="middle">80</text>
<text x="536.9" y="826.6" text-anchor="middle">Age (years)</text>
<text transform="translate(370.3,699.35) rotate(-90)" x="0" y="0" text-anchor="middle">Breast cancer risk by age (%)</text>
<text x="361.6" y="600.5" font-weight="bold" font-size="15.2">d</text>
<polyline points="395.2,799.3 397.56,799.25 399.92,799.2 402.28,799.15 404.65,799.08 407.01,798.99 409.37,798.87 411.73,798.72 414.09,798.53 416.45,798.28 418.82,797.93 421.18,797.53 423.54,797.11 425.9,796.64 428.26,796.12 430.62,795.57 432.99,795.03 435.35,794.53 437.71,794.04 440.07,793.53 442.43,792.95 444.8,792.29 447.16,791.56 449.52,790.75 451.88,789.88 454.24,788.93 456.6,787.87 458.96,786.73 461.33,785.5 463.69,784.18 466.05,782.73 468.41,781.19 470.77,779.59 473.13,777.89 475.5,776.08 477.86,774.2 480.22,772.32 482.58,770.43 484.94,768.52 487.31,766.58 489.67,764.58 492.03,762.54 494.39,760.46 496.75,758.35 499.11,756.19 501.48,753.98 503.84,751.71 506.2,749.34 508.56,746.91 510.92,744.49 513.28,742.12 515.64,739.84 518.01,737.59 520.37,735.33 522.73,733.01 525.09,730.57 527.45,728.04 529.82,725.46 532.18,722.89 534.54,720.36 536.9,717.92 539.26,715.59 541.62,713.31 543.99,711.07 546.35,708.87 548.71,706.67 551.07,704.47 553.43,702.3 555.79,700.14 558.15,697.96 560.52,695.7 562.88,693.32 565.24,690.89 567.6,688.55 569.96,686.41 572.33,684.31 574.69,682.05 577.05,679.83 579.41,677.92 581.77,676.22 584.13,674.5 586.5,672.74 588.86,670.95 591.22,668.92 593.58,666.27 595.94,663.58 598.3,661.46 600.66,659.51 603.03,657.43 605.39,655.3 607.75,653.16 610.11,651.04 612.47,648.9 614.84,646.71 617.2,644.45 619.56,642.3 621.92,640.33 624.28,638.41 626.64,636.45 629,634.48 631.37,632.5 633.73,630.44 636.09,628.39 638.45,626.63 640.81,625.18 643.17,623.87 645.54,622.56 647.9,621.17 650.26,619.75 652.62,618.35 654.98,616.96 657.35,615.61 659.71,614.24 662.07,612.92 664.43,611.71 666.79,610.68 669.15,609.75 671.51,608.9 673.88,608.09 676.24,607.28 678.6,606.44" fill="none" stroke="#4472C4" stroke-width="2.6" stroke-linejoin="round" stroke-linecap="butt"/>
<polyline points="395.2,799.3 397.56,799.25 399.92,799.2 402.28,799.15 404.65,799.08 407.01,798.99 409.37,798.87 411.73,798.72 414.09,798.53 416.45,798.28 418.82,797.93 421.18,797.53 423.54,797.11 425.9,796.64 428.26,796.12 430.62,795.57 432.99,795.03 435.35,794.53 437.71,794.04 440.07,793.53 442.43,792.95 444.8,792.29 447.16,791.56 449.52,790.75 451.88,789.88 454.24,788.93 456.6,787.87 458.96,786.73 461.33,785.5 463.69,784.18 466.05,782.73 468.41,781.19 470.77,779.59 473.13,777.89 475.5,776.08 477.86,774.2 480.22,772.32 482.58,770.43 484.94,768.52 487.31,766.58 489.67,764.58 492.03,762.54 494.39,760.46 496.75,758.35 499.11,756.19 501.48,753.98 503.84,751.71 506.2,749.34 508.56,746.91 510.92,744.49 513.28,742.12 515.64,739.84 518.01,737.59 520.37,735.33 522.73,733.01 525.09,730.57 527.45,728.04 529.82,725.46 532.18,722.89 534.54,720.36 536.9,717.92 539.26,715.59 541.62,713.31 543.99,711.07 546.35,708.87 548.71,706.67 551.07,704.47 553.43,702.3 555.79,700.14 558.15,697.96 560.52,695.7 562.88,693.32 565.24,690.89 567.6,688.55 569.96,686.41 572.33,684.31 574.69,682.05 577.05,679.83 579.41,677.92 581.77,676.22 584.13,674.5 586.5,672.68 588.86,670.83 591.22,668.92 593.58,666.87 595.94,664.91 598.3,663.22 600.66,661.69 603.03,660.38 605.39,659.24 607.75,658.14 610.11,657.04 612.47,655.99 614.84,655 617.2,654.05 619.56,653.21 621.92,652.49 624.28,651.81 626.64,651.08 629,650.34 631.37,649.59 633.73,648.83 636.09,648.05 638.45,647.27 640.81,646.53 643.17,645.84 645.54,645.21 647.9,644.61 650.26,644.03 652.62,643.46 654.98,642.89 657.35,642.3 659.71,641.69 662.07,641.09 664.43,640.53 666.79,640.05 669.15,639.64 671.51,639.28 673.88,638.94 676.24,638.61 678.6,638.27" fill="none" stroke="#FFC000" stroke-width="2.6" stroke-linejoin="round" stroke-linecap="butt"/>
<line x1="45.1" y1="616.2" x2="69.7" y2="616.2" stroke="#4472C4" stroke-width="2.6"/>
<line x1="45.1" y1="634.8" x2="69.7" y2="634.8" stroke="#FFC000" stroke-width="2.6"/>
<text x="73.4" y="620.3">Carrier</text>
<rect x="106.1" y="616.8" width="7.6" height="0.85"/>
<text x="114.8" y="620.3" letter-spacing="0.1">previous model</text>
<text x="73.4" y="638.9">Carrier</text>
<rect x="106.1" y="635.4" width="7.6" height="0.85"/>
<text x="114.8" y="638.9" letter-spacing="0.1">updated model</text>
<line x1="406.5" y1="615.6" x2="430.5" y2="615.6" stroke="#4472C4" stroke-width="2.6"/>
<line x1="406.5" y1="634.2" x2="430.5" y2="634.2" stroke="#FFC000" stroke-width="2.6"/>
<text x="435" y="619.7">Carrier</text>
<rect x="467.7" y="616.2" width="7.6" height="0.85"/>
<text x="476.4" y="619.7" letter-spacing="0.1">previous model</text>
<text x="435" y="638.3">Carrier</text>
<rect x="467.7" y="634.8" width="7.6" height="0.85"/>
<text x="476.4" y="638.3" letter-spacing="0.1">updated model</text>
<circle cx="80.6" cy="698.8" r="11.3" fill="#fff" stroke="#000" stroke-width="1.3"/>
<polygon points="72.19,707.21 68.33,714.53 64.87,711.07" fill="#000"/>
<text x="84.6" y="685.0">20, <tspan font-style="italic" dx="0.2" letter-spacing="0.05">BRCA2</tspan><tspan> PV</tspan></text>
<line x1="424.1" y1="672.3" x2="484" y2="672.3" stroke="#000" stroke-width="1.2"/>
<line x1="454" y1="672.3" x2="454" y2="714.4" stroke="#000" stroke-width="1.3"/>
<rect x="398.05" y="659.65" width="25.7" height="25.3" fill="#fff" stroke="#000" stroke-width="1.5"/>
<circle cx="496.5" cy="672.3" r="12.5" fill="#000"/>
<circle cx="453.85" cy="726.8" r="12.75" fill="#fff" stroke="#000" stroke-width="1.25"/>
<polygon points="444.45,736.2 440.06,743.98 436.67,740.59" fill="#000"/>
<text x="509.0" y="663.4" letter-spacing="0.03">40, BC 40</text>
<text x="458.55" y="711.6">20, <tspan font-style="italic" dx="0.8" letter-spacing="0.15">BRCA2</tspan><tspan dx="0.2" letter-spacing="0.1"> PV</tspan></text>
</svg>
</body></html>
